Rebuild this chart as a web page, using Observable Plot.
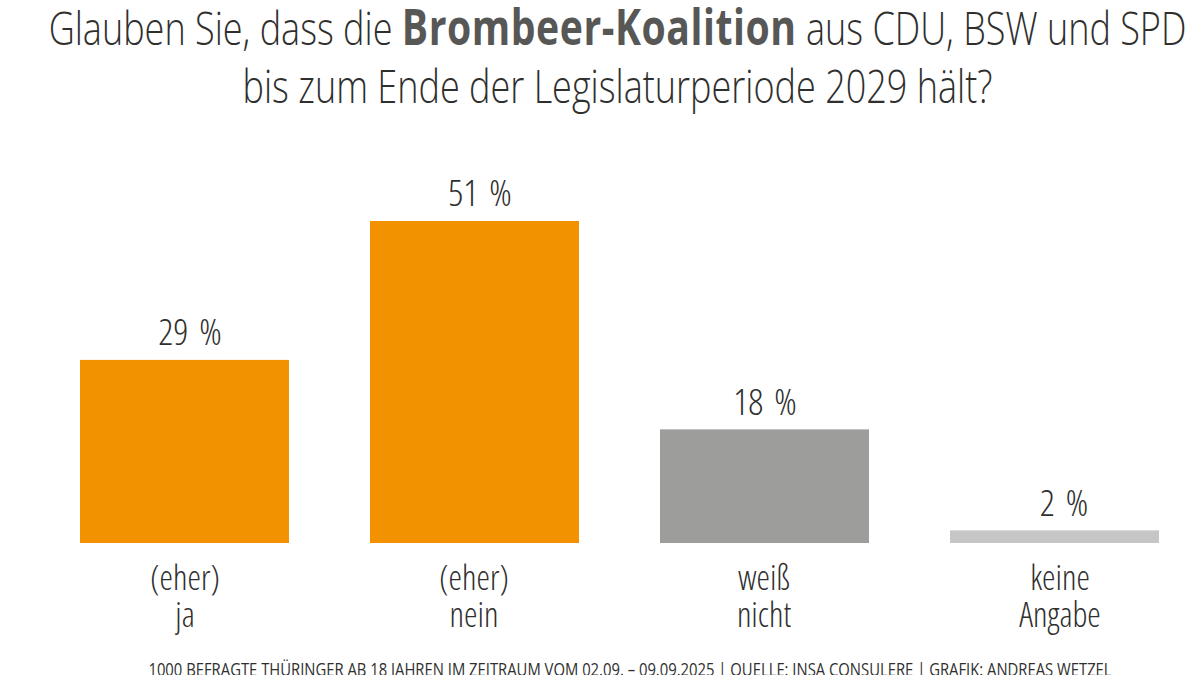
<!DOCTYPE html>
<html><head><meta charset="utf-8">
<script src="https://cdn.jsdelivr.net/npm/d3@7"></script>
<script src="https://cdn.jsdelivr.net/npm/@observablehq/plot@0.6"></script>
<style>
html,body{margin:0;padding:0;background:#fff;width:1200px;height:675px;overflow:hidden}
body{position:relative;font-family:"Open Sans","Liberation Sans",sans-serif;color:#2f2f2e}
#t{position:absolute;left:-400px;top:-2px;width:2035px;text-align:center;font-size:46px;line-height:58px;font-weight:300;white-space:nowrap;transform:scaleX(.783)}
#t b{font-weight:700;color:#575756;font-size:50px;letter-spacing:.7px;line-height:0}
#c{position:absolute;left:0;top:130px}
#f{position:absolute;left:-400px;top:656px;width:2060px;text-align:center;font-size:19px;white-space:nowrap;transform:scaleX(.78)}
svg text{word-spacing:4px}
</style></head><body>
<div id="t">Glauben Sie, dass die <b>Brombeer-Koalition</b> aus CDU, BSW und SPD<br>bis zum Ende der Legislaturperiode 2029 hält?</div>
<div id="c"></div>
<div id="f">1000 BEFRAGTE THÜRINGER AB 18 JAHREN IM ZEITRAUM VOM 02.09. – 09.09.2025 | QUELLE: INSA CONSULERE | GRAFIK: ANDREAS WETZEL</div>
<script>
const categories=["(eher)\nja","(eher)\nnein","weiß\nnicht","keine\nAngabe"];
const values=[29,51,18,2];
const colors=["#f39200","#f39200","#9d9d9c","#c6c6c6"];
const rows=categories.map((c,i)=>({c,v:values[i],color:colors[i],label:values[i]+" %"}));
const fontProps={fontFamily:"'Open Sans',sans-serif",fontSize:34,fill:"#2f2f2e",fontWeight:300};
const valueNudge=[5,5,0,9], categoryNudge=[0,-1,-1,5];
const plot=Plot.plot({
  width:1200,height:510,marginTop:0,marginBottom:0,marginLeft:0,marginRight:0,
  style:{background:"transparent"},
  x:{domain:categories,range:[80,1159],paddingInner:0.28,paddingOuter:0,align:0.5,axis:null},
  y:{domain:[0,51],range:[413,91],axis:null},
  marks:[
    Plot.barY(rows,{x:"c",y:"v",fill:d=>d.color}),
    ...rows.map((r,i)=>Plot.text([r],{x:"c",y:"v",text:"label",dy:-27,dx:valueNudge[i],...fontProps,fontSize:37})),
    ...rows.map((r,i)=>Plot.text([r],{x:"c",y:0,text:"c",dy:53,dx:categoryNudge[i],lineHeight:1.09,...fontProps}))
  ]
});
document.getElementById("c").appendChild(plot);
d3.select(plot).selectAll("g[aria-label=text] text").style("font-stretch","condensed");
</script>
</body></html>
